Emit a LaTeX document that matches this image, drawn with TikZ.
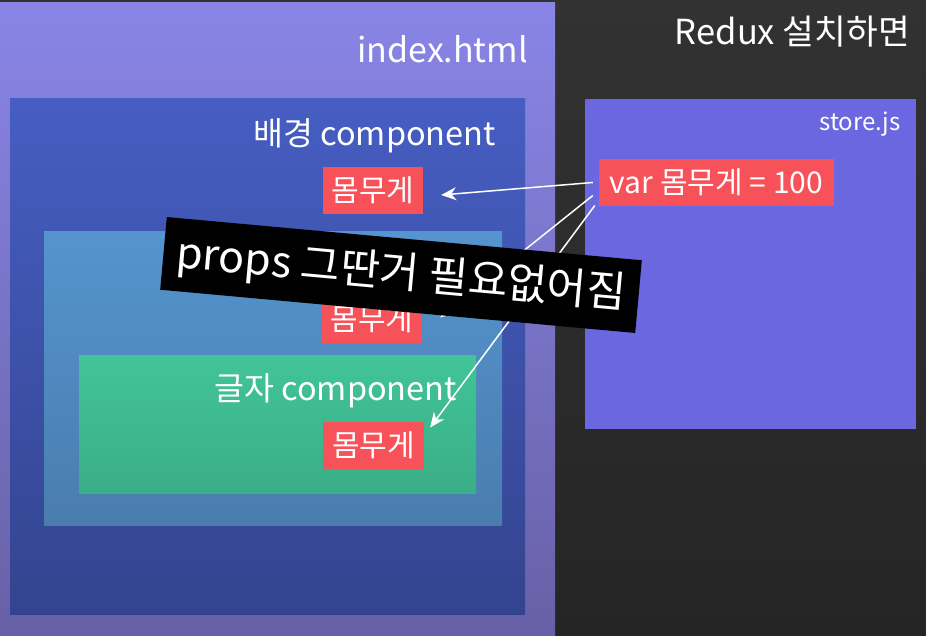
\documentclass[tikz,border=0pt]{standalone}
\usepackage{fontspec}
\setmainfont{Noto Sans CJK KR}
\usepackage{tikz}
\usetikzlibrary{arrows.meta,calc}
\definecolor{bgtop}{HTML}{323232}
\definecolor{bgbot}{HTML}{252525}
\definecolor{htmltop}{HTML}{8985E6}
\definecolor{htmlbot}{HTML}{6860A6}
\definecolor{bgboxtop}{HTML}{465EC2}
\definecolor{bgboxbot}{HTML}{33448F}
\definecolor{midtop}{HTML}{5594CE}
\definecolor{midbot}{HTML}{4A7DAE}
\definecolor{txttop}{HTML}{42C498}
\definecolor{txtbot}{HTML}{3AAE87}
\definecolor{storefill}{HTML}{6A67E0}
\definecolor{tagred}{HTML}{F7525A}

\begin{document}
\begin{tikzpicture}[x=1pt, y=-1pt, >=Stealth,
		lbl/.style={text=white, inner sep=0pt},
		tag/.style={fill=tagred, text=white, inner sep=0pt, minimum height=47pt,
			font=\fontsize{30}{36}\selectfont},
		link/.style={white, line width=1.5pt, -{Stealth[length=15pt,width=13pt]}},
		banner/.style={fill=black, text=white, inner sep=0pt, minimum width=477pt,
			minimum height=73pt, font=\fontsize{43}{50}\selectfont}]
		\useasboundingbox (0,0) rectangle (926,636);
		% background and boxes
		\shade[top color=bgtop, bottom color=bgbot] (0,0) rectangle (926,636);
		\shade[top color=htmltop, bottom color=htmlbot] (0,3) rectangle (555,636);
		\shade[top color=bgboxtop, bottom color=bgboxbot] (10,99) rectangle (525,614);
		\shade[top color=midtop, bottom color=midbot] (44,232) rectangle (502,525);
		\shade[top color=txttop, bottom color=txtbot] (79,355) rectangle (476,493);
		\fill[storefill] (585,99) rectangle (916,429);
		% titles
		\node[lbl, anchor=base east, font=\fontsize{34.5}{40}\selectfont] (redux) at (910,45) {Redux 설치하면};
		\node[lbl, anchor=base east, font=\fontsize{34}{40}\selectfont] (html) at (528,63) {index.html};
		\node[lbl, anchor=base east, font=\fontsize{32.5}{38}\selectfont] (bgtitle) at (496,146) {배경 component};
		\node[lbl, anchor=base east, font=\fontsize{32.5}{38}\selectfont] (txttitle) at (457,400) {글자 component};
		\node[lbl, anchor=base east, font=\fontsize{24}{30}\selectfont] (store) at (901,131) {store.js};
		% weight tags
		\node[tag, minimum width=235pt] (var) at (716.5,182.5) {var 몸무게 = 100};
		\node[tag, minimum width=100pt] (w1) at (373,190.5) {몸무게};
		\node[tag, minimum width=100pt] (w2) at (372,319.5) {몸무게};
		\node[tag, minimum width=101pt] (w3) at (373.5,445.5) {몸무게};
		% arrows from the store
		\draw[link] ([xshift=-6pt]var.west) -- ([xshift=18pt,yshift=-4.5pt]w1.east);
		\draw[link] ([xshift=-6pt,yshift=-13pt]var.west) -- ([xshift=18pt,yshift=2pt]w2.east);
		\draw[link] ([xshift=-4pt,yshift=-23pt]var.west) -- ([xshift=6pt,yshift=18pt]w3.east);
		% banner on top
		\node[banner, rotate=-5.2] (props) at (401,275) {props 그딴거 필요없어짐};
	\end{tikzpicture}
\end{document}
